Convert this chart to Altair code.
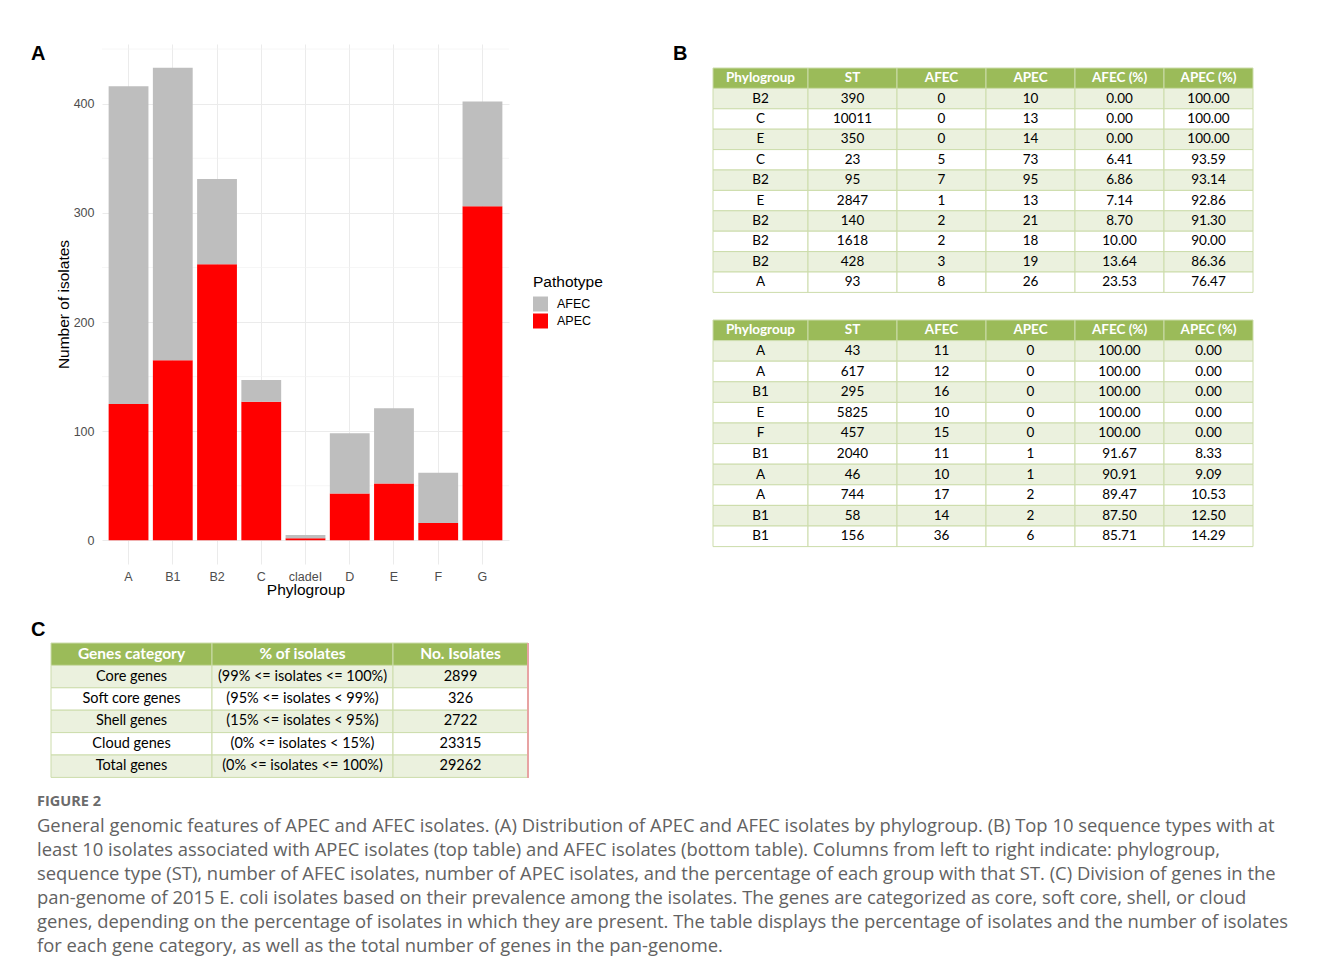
import altair as alt
import pandas as pd

# ---------------- data ----------------
phylogroups = ["A", "B1", "B2", "C", "cladeI", "D", "E", "F", "G"]
apec_counts = [125, 165, 253, 127, 2, 43, 52, 16, 306]
afec_counts = [291, 268, 78, 20, 3, 55, 69, 46, 96]
y_ticks = [0, 100, 200, 300, 400]
y_minor = [50, 150, 250, 350, 450]

tb_headers = ["Phylogroup", "ST", "AFEC", "APEC", "AFEC (%)", "APEC (%)"]
top_phylo = ["B2", "C", "E", "C", "B2", "E", "B2", "B2", "B2", "A"]
top_st = [390, 10011, 350, 23, 95, 2847, 140, 1618, 428, 93]
top_afec = [0, 0, 0, 5, 7, 1, 2, 2, 3, 8]
top_apec = [10, 13, 14, 73, 95, 13, 21, 18, 19, 26]
top_afec_pct = ["0.00", "0.00", "0.00", "6.41", "6.86", "7.14", "8.70", "10.00", "13.64", "23.53"]
top_apec_pct = ["100.00", "100.00", "100.00", "93.59", "93.14", "92.86", "91.30", "90.00", "86.36", "76.47"]

bot_phylo = ["A", "A", "B1", "E", "F", "B1", "A", "A", "B1", "B1"]
bot_st = [43, 617, 295, 5825, 457, 2040, 46, 744, 58, 156]
bot_afec = [11, 12, 16, 10, 15, 11, 10, 17, 14, 36]
bot_apec = [0, 0, 0, 0, 0, 1, 1, 2, 2, 6]
bot_afec_pct = ["100.00", "100.00", "100.00", "100.00", "100.00", "91.67", "90.91", "89.47", "87.50", "85.71"]
bot_apec_pct = ["0.00", "0.00", "0.00", "0.00", "0.00", "8.33", "9.09", "10.53", "12.50", "14.29"]

tc_headers = ["Genes category", "% of isolates", "No. Isolates"]
tc_category = ["Core genes", "Soft core genes", "Shell genes", "Cloud genes", "Total genes"]
tc_range = ["(99% <= isolates <= 100%)", "(95% <= isolates < 99%)", "(15% <= isolates < 95%)",
            "(0% <= isolates < 15%)", "(0% <= isolates <= 100%)"]
tc_number = [2899, 326, 2722, 23315, 29262]

panel_labels = ["A", "B", "C"]
caption_head = "FIGURE 2"
caption_lines = [
    "General genomic features of APEC and AFEC isolates. (A) Distribution of APEC and AFEC isolates by phylogroup. (B) Top 10 sequence types with at",
    "least 10 isolates associated with APEC isolates (top table) and AFEC isolates (bottom table). Columns from left to right indicate: phylogroup,",
    "sequence type (ST), number of AFEC isolates, number of APEC isolates, and the percentage of each group with that ST. (C) Division of genes in the",
    "pan-genome of 2015 E. coli isolates based on their prevalence among the isolates. The genes are categorized as core, soft core, shell, or cloud",
    "genes, depending on the percentage of isolates in which they are present. The table displays the percentage of isolates and the number of isolates",
    "for each gene category, as well as the total number of genes in the pan-genome.",
]

# ---------------- styles ----------------
GG = "Liberation Sans"
TBL = "Lato"
CAP = "Open Sans"
HEAD = "#9BBB59"
ODD = "#EBF1DE"
GRID = "#CCDCAB"


def label_chart(text, dx, dy, width=0):
    """Small unit chart holding a bold panel letter."""
    return alt.Chart(pd.DataFrame({"t": [text]})).mark_text(
        font=GG, fontSize=20, fontWeight="bold", color="black",
        align="left", baseline="alphabetic"
    ).encode(x=alt.value(dx), y=alt.value(dy), text="t:N").properties(width=width, height=0)


# ---------------- panel A ----------------
bar_df = pd.DataFrame({
    "phylogroup": phylogroups * 2,
    "pathotype": ["APEC"] * len(phylogroups) + ["AFEC"] * len(phylogroups),
    "count": apec_counts + afec_counts,
})
minor_df = pd.DataFrame({"count": y_minor})

y_axis = alt.Axis(values=y_ticks, title="Number of isolates", ticks=False, domain=False,
                  grid=True, gridColor="#EBEBEB", gridWidth=1, labelPadding=8,
                  labelFont=GG, labelFontSize=12.5, labelColor="#4D4D4D",
                  titleFont=GG, titleFontSize=15.5, titleFontWeight="normal",
                  titleColor="black", titlePadding=2)
y_scale = alt.Scale(domain=[-21.65, 454.65], nice=False, zero=False)

minor = alt.Chart(minor_df).mark_rule(color="#F0F0F0", strokeWidth=0.7).encode(
    y=alt.Y("count:Q", scale=y_scale, axis=y_axis)
)

bars = alt.Chart(bar_df).transform_calculate(
    stack_ord="datum.pathotype == 'APEC' ? 0 : 1"
).mark_bar().encode(
    x=alt.X("phylogroup:N", sort=phylogroups,
            scale=alt.Scale(paddingInner=0.1, paddingOuter=0.15),
            axis=alt.Axis(title="Phylogroup", labelAngle=0, ticks=False, domain=False,
                          grid=True, gridColor="#EBEBEB", gridWidth=1, bandPosition=0.5,
                          labelPadding=6, titlePadding=0,
                          labelFont=GG, labelFontSize=12.5, labelColor="#4D4D4D",
                          titleFont=GG, titleFontSize=15.5, titleFontWeight="normal",
                          titleColor="black")),
    y=alt.Y("count:Q", stack="zero", scale=y_scale, axis=y_axis),
    color=alt.Color("pathotype:N",
                    scale=alt.Scale(domain=["AFEC", "APEC"], range=["#BEBEBE", "#FF0000"]),
                    legend=alt.Legend(title="Pathotype", orient="none", legendX=502, legendY=231,
                                      titleFont=GG, titleFontSize=15.5, titleFontWeight="normal",
                                      titleColor="black", labelFont=GG, labelFontSize=12.5,
                                      labelColor="black", symbolType="square", symbolSize=225,
                                      symbolStrokeWidth=0, labelOffset=9, rowPadding=2,
                                      titlePadding=6)),
    order=alt.Order("stack_ord:Q"),
)

panel_a = alt.layer(minor, bars).properties(width=407, height=520)
panel_a_block = alt.hconcat(label_chart(panel_labels[0], 0, 16), panel_a, spacing=3)


# ---------------- tables ----------------
def make_table(headers, columns, widths, row_h, fs_head, fs_body, right_rule=None):
    charts = []
    n = len(columns[0])
    for j, (h, vals, w) in enumerate(zip(headers, columns, widths)):
        df = pd.DataFrame({"r": list(range(n + 1)), "t": [h] + [str(v) for v in vals]})
        base = alt.Chart(df).transform_calculate(
            kind="datum.r == 0 ? 'h' : (datum.r % 2 == 1 ? 'o' : 'e')"
        )
        y = alt.Y("r:O", axis=None, scale=alt.Scale(paddingInner=0, paddingOuter=0))
        rect = base.mark_rect(stroke=GRID, strokeWidth=1).encode(
            y=y,
            fill=alt.Fill("kind:N", scale=alt.Scale(domain=["h", "o", "e"],
                                                    range=[HEAD, ODD, "#FFFFFF"]),
                          legend=None),
        )
        head = base.transform_filter("datum.r == 0").mark_text(
            font=TBL, fontWeight="bold", fontSize=fs_head, color="white"
        ).encode(y=y, text="t:N")
        body = base.transform_filter("datum.r > 0").mark_text(
            font=TBL, fontSize=fs_body, color="black"
        ).encode(y=y, text="t:N")
        layers = [rect, head, body]
        if right_rule and j == len(headers) - 1:
            layers.append(alt.Chart(df).mark_rule(color=right_rule, strokeWidth=1.5).encode(
                x=alt.value(w)))
        charts.append(alt.layer(*layers).properties(width=w, height=row_h * (n + 1)))
    return charts


widths_b = [95, 89, 89, 89, 89, 89]
table_top = alt.hconcat(*make_table(
    tb_headers, [top_phylo, top_st, top_afec, top_apec, top_afec_pct, top_apec_pct],
    widths_b, 20.4, 13.5, 13.5), spacing=0, bounds="flush")
table_bot = alt.hconcat(*make_table(
    tb_headers, [bot_phylo, bot_st, bot_afec, bot_apec, bot_afec_pct, bot_apec_pct],
    widths_b, 20.6, 13.5, 13.5), spacing=0, bounds="flush")

panel_b = alt.vconcat(
    alt.vconcat(label_chart(panel_labels[1], -40, 16), table_top, spacing=2),
    table_bot, spacing=25,
)

panel_c = alt.hconcat(
    label_chart(panel_labels[2], 0, -7, width=20),
    *make_table(tc_headers, [tc_category, tc_range, tc_number], [161, 181, 135],
                22.4, 15.5, 14.5, right_rule="#E8A3A3"),
    spacing=0, bounds="flush",
)

# ---------------- caption ----------------
cap_rows = [caption_head] + caption_lines
cap_df = pd.DataFrame({"i": list(range(len(cap_rows))), "t": cap_rows})
cap_y = alt.Y("i:O", axis=None, scale=alt.Scale(paddingInner=0, paddingOuter=0))
cap_head = alt.Chart(cap_df).transform_filter("datum.i == 0").mark_text(
    align="left", baseline="middle", font=CAP, fontSize=14.5, fontWeight="bold", color="#6B6B6B"
).encode(y=cap_y, x=alt.value(6), text="t:N")
cap_body = alt.Chart(cap_df).transform_filter("datum.i > 0").mark_text(
    align="left", baseline="middle", font=CAP, fontSize=18.4, color="#626262"
).encode(y=cap_y, x=alt.value(6), text="t:N")
caption = alt.layer(cap_head, cap_body).properties(width=1265, height=24 * len(cap_rows))

top_row = alt.hconcat(panel_a_block, panel_b, spacing=162)
lower = alt.vconcat(panel_c, caption, spacing=10)
chart = alt.vconcat(top_row, lower, spacing=20).properties(
    padding={"left": 22, "top": 35, "right": 0, "bottom": 0}
).configure_view(stroke="transparent")

chart.save("out.html", embed_options={"renderer": "svg", "actions": False})
